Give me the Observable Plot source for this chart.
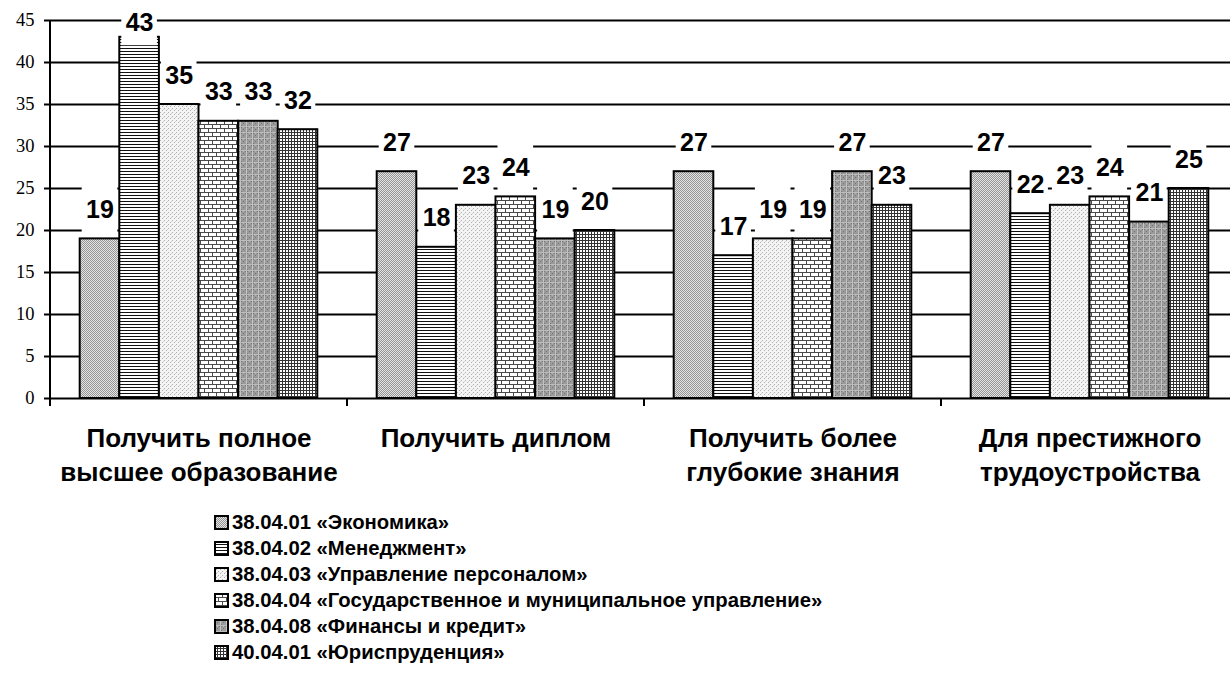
<!DOCTYPE html>
<html><head><meta charset="utf-8">
<script src="https://cdn.jsdelivr.net/npm/d3@7"></script>
<script src="https://cdn.jsdelivr.net/npm/@observablehq/plot@0.6"></script>
<style>
html,body{margin:0;padding:0;background:#fff;overflow:hidden;}
#chart svg{display:block;max-width:none !important;}
#legend{margin-left:214px;margin-top:14px;font:bold 20.3px "Liberation Sans",Arial,sans-serif;color:#000;}
.row{display:flex;align-items:center;height:26px;}
.sw{width:15px;height:15px;margin-right:3px;display:block;}
</style></head><body>
<svg width="0" height="0" style="position:absolute">
<defs>
<pattern id="p0" width="2" height="2" patternUnits="userSpaceOnUse"><rect width="2" height="2" fill="#e4e4e4"/><rect width="1" height="1" fill="#949494"/><rect x="1" y="1" width="1" height="1" fill="#949494"/></pattern>
<pattern id="p1" width="4" height="3" patternUnits="userSpaceOnUse"><rect width="4" height="3" fill="#fff"/><rect width="4" height="1" fill="#111"/></pattern>
<pattern id="p2" width="4" height="4" patternUnits="userSpaceOnUse"><rect width="4" height="4" fill="#f4f4f4"/><rect width="1" height="1" fill="#b0b0b0"/><rect x="2" y="2" width="1" height="1" fill="#b0b0b0"/><rect x="3" y="1" width="1" height="1" fill="#d4d4d4"/></pattern>
<pattern id="p3" width="8" height="8" patternUnits="userSpaceOnUse"><rect width="8" height="8" fill="#fff"/><rect width="8" height="1" fill="#4a4a4a"/><rect y="4" width="8" height="1" fill="#4a4a4a"/><rect width="1" height="4" fill="#4a4a4a"/><rect x="4" y="4" width="1" height="4" fill="#4a4a4a"/></pattern>
<pattern id="p4" width="6" height="6" patternUnits="userSpaceOnUse"><rect width="6" height="6" fill="#9a9a9a"/><rect x="1" y="1" width="1" height="1" fill="#767676"/><rect x="3" y="3" width="1" height="1" fill="#767676"/><rect x="5" y="1" width="1" height="1" fill="#767676"/><rect x="1" y="5" width="1" height="1" fill="#767676"/><rect x="3" y="1" width="1" height="1" fill="#b0b0b0"/><rect width="1" height="6" fill="#c4c4c4"/><rect width="6" height="1" fill="#bcbcbc"/></pattern>
<pattern id="p5" width="3" height="3" patternUnits="userSpaceOnUse"><rect width="3" height="3" fill="#fff"/><rect width="3" height="1" fill="#333"/><rect width="1" height="3" fill="#333"/></pattern>
</defs></svg>
<div id="chart"></div>
<div id="legend"></div>
<script>
const categories = ["Получить полное\nвысшее образование", "Получить диплом", "Получить более\nглубокие знания", "Для престижного\nтрудоустройства"];
const series = ["38.04.01 «Экономика»", "38.04.02 «Менеджмент»", "38.04.03 «Управление персоналом»", "38.04.04 «Государственное и муниципальное управление»", "38.04.08 «Финансы и кредит»", "40.04.01 «Юриспруденция»"];
const economics = [19, 27, 27, 27];
const management = [43, 18, 17, 22];
const personnel = [35, 23, 19, 23];
const stateAdmin = [33, 24, 19, 24];
const finance = [33, 19, 27, 21];
const law = [32, 20, 23, 25];
const yTicks = [0, 5, 10, 15, 20, 25, 30, 35, 40, 45];
const patterns = ["url(#p0)", "url(#p1)", "url(#p2)", "url(#p3)", "url(#p4)", "url(#p5)"];

const valuesBySeries = [economics, management, personnel, stateAdmin, finance, law];
const data = [];
categories.forEach((c, i) => series.forEach((s, j) => data.push({cat: c, series: s, value: valuesBySeries[j][i]})));

const font = "Liberation Sans, Arial, sans-serif";
const serif = "Liberation Serif";
const labelY = d => Math.min(d.value + 3.45, 44.7);

const chart = Plot.plot({
  width: 1238, height: 495,
  marginLeft: 50, marginRight: 0, marginTop: 20, marginBottom: 97,
  style: {background: "#fff", color: "#000", maxWidth: "none"},
  fx: {domain: categories, padding: 0, axis: null, label: null, round: false},
  x: {domain: series, paddingInner: 0, paddingOuter: 0.75, axis: null, round: false},
  y: {domain: [0, 45], axis: null},
  color: {domain: series, range: patterns},
  marks: [
    Plot.gridY(yTicks, {stroke: "#000", strokeOpacity: 1, strokeWidth: 2}),
    Plot.barY(data, {fx: "cat", x: "series", y: "value", fill: "series", stroke: "#000", strokeWidth: 2}),
    Plot.barY(data, {fx: "cat", x: "series", y1: d => labelY(d) - 2.7, y2: d => labelY(d) + 2.9, fill: "#fff", insetLeft: 2, insetRight: 2}),
    Plot.text(data, {fx: "cat", x: "series", y: labelY, text: d => String(d.value), fontFamily: font, fontSize: 25, fontWeight: "bold", fill: "#000"}),
    Plot.axisY(yTicks, {tickSize: 6, tickFormat: () => "", strokeWidth: 2, label: null}),
    Plot.text(yTicks, {fx: () => categories[0], y: d => d, text: d => String(d), frameAnchor: "left", textAnchor: "end", dx: -16, fontFamily: serif, fontSize: 18.5, fill: "#000"}),
    Plot.text(categories, {fx: d => d, text: d => d, frameAnchor: "bottom", lineAnchor: "top", dy: 24, fontFamily: font, fontSize: 26, fontWeight: "bold", lineHeight: 1.31, fill: "#000"})
  ]
});
document.getElementById("chart").appendChild(chart);

const svg = d3.select(chart);
// axis line and group boundary ticks from the scales
const fx = chart.scale("fx"), y = chart.scale("y");
const y0 = y.apply(0), yTop = y.apply(45);
const xLeft = fx.apply(categories[0]);
svg.append("line").attr("x1", xLeft).attr("x2", xLeft).attr("y1", y0 + 1).attr("y2", yTop)
  .attr("stroke", "#000").attr("stroke-width", 2);
categories.forEach(c => {
  const x = fx.apply(c);
  svg.append("line").attr("x1", x).attr("x2", x).attr("y1", y0).attr("y2", y0 + 8)
    .attr("stroke", "#000").attr("stroke-width", 2);
});

// legend
const legend = d3.select("#legend");
series.forEach((s, i) => {
  const row = legend.append("div").attr("class", "row");
  const sw = row.append("svg").attr("class", "sw").attr("width", 15).attr("height", 15);
  sw.append("rect").attr("x", 1).attr("y", 1).attr("width", 13).attr("height", 13)
    .attr("fill", patterns[i]).attr("stroke", "#000").attr("stroke-width", 2);
  row.append("span").text(s);
});
</script>
</body></html>
